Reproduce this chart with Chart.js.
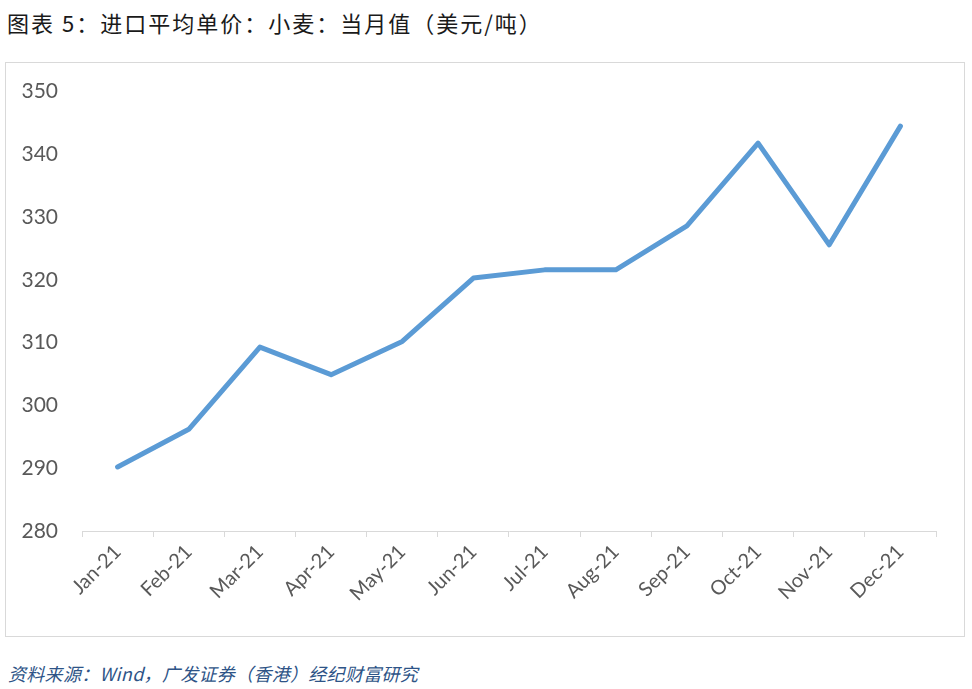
<!DOCTYPE html>
<html>
<head>
<meta charset="utf-8">
<script src="https://cdn.jsdelivr.net/npm/chart.js@4/dist/chart.umd.min.js"></script>
<style>
  body { margin: 0; width: 972px; height: 689px; background: #fff; position: relative; overflow: hidden; }
  .title { position: absolute; left: 7px; top: 6px; font: 22px "Noto Sans CJK SC", sans-serif; color: #1a1a1a; white-space: nowrap; letter-spacing: 2px; }
  .box { position: absolute; left: 5px; top: 62px; width: 958px; height: 573px; border: 1px solid #d9d9d9; }
  .source { position: absolute; left: 8px; top: 660px; font: italic 18px "Noto Sans CJK SC", sans-serif; color: #2e5487; white-space: nowrap; letter-spacing: 0.3px; }
</style>
</head>
<body>
<div class="title">图表 5：进口平均单价：小麦：当月值（美元/吨）</div>
<div class="box"><canvas id="chart" width="958" height="573"></canvas></div>
<div class="source">资料来源：Wind，广发证券（香港）经纪财富研究</div>
<script>
const months = ["Jan-21", "Feb-21", "Mar-21", "Apr-21", "May-21", "Jun-21",
                "Jul-21", "Aug-21", "Sep-21", "Oct-21", "Nov-21", "Dec-21"];
const wheatPrice = [290.2, 296.2, 309.3, 304.9, 310.2, 320.3,
                    321.6, 321.6, 328.6, 341.8, 325.6, 344.5];
const yTicks = [280, 290, 300, 310, 320, 330, 340, 350];

const ctx = document.getElementById("chart").getContext("2d");
new Chart(ctx, {
  type: "line",
  data: {
    labels: months,
    datasets: [{
      label: "进口平均单价：小麦",
      data: wheatPrice,
      borderColor: "#5b9bd5",
      borderWidth: 5,
      pointRadius: 0,
      tension: 0,
      borderCapStyle: "round",
      borderJoinStyle: "round",
    }]
  },
  options: {
    responsive: false,
    animation: false,
    layout: { padding: { top: 19, right: 28, left: 0, bottom: 0 } },
    plugins: { legend: { display: false }, tooltip: { enabled: false } },
    scales: {
      x: {
        offset: true,
        grid: { offset: true, drawOnChartArea: false, drawTicks: true, tickLength: 6, color: "#d9d9d9" },
        border: { color: "#d9d9d9" },
        ticks: {
          minRotation: 45, maxRotation: 45, autoSkip: false,
          color: "#595959", font: { family: "Lato", size: 20 }, padding: 3
        },
        afterFit: s => { s.height = 105; }
      },
      y: {
        min: 280, max: 350,
        afterBuildTicks: s => { s.ticks = yTicks.map(v => ({ value: v })); },
        grid: { display: false },
        border: { display: false },
        ticks: { color: "#595959", font: { family: "Lato", size: 21 }, padding: 16 },
        afterFit: s => { s.width = 76; }
      }
    }
  }
});
</script>
</body>
</html>
